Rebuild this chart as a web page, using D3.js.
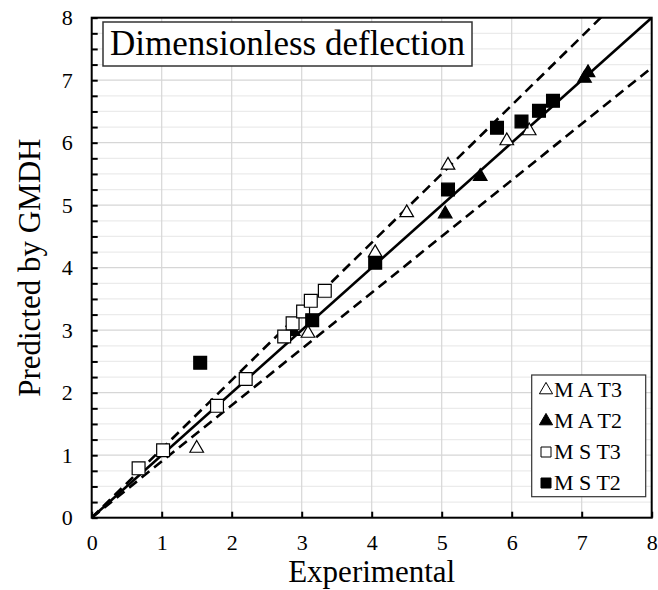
<!DOCTYPE html>
<html><head><meta charset="utf-8">
<script src="https://cdn.jsdelivr.net/npm/d3@7"></script>
<style>body{margin:0;background:#fff}svg{display:block}</style>
</head><body><svg id="c" width="658" height="590"></svg>
<script>
const maT3 = [[1.50,1.11],[3.09,2.95],[4.05,4.24],[4.50,4.88],[5.09,5.64],[5.93,6.03],[6.25,6.19]];
const maT2 = [[2.88,2.98],[5.05,4.86],[5.55,5.46],[7.04,7.03],[7.09,7.12]];
const msT3 = [[0.67,0.79],[1.02,1.08],[1.79,1.79],[2.20,2.22],[2.75,2.90],[2.87,3.11],[3.02,3.30],[3.13,3.47],[3.33,3.63]];
const msT2 = [[1.55,2.48],[3.15,3.16],[4.05,4.08],[5.09,5.25],[5.79,6.24],[6.14,6.34],[6.39,6.51],[6.59,6.67]];
const ticks = [0,1,2,3,4,5,6,7,8];
const minorTicks = d3.range(0, 8.001, 0.25);
const refLines = [{k:1, dash:null},{k:1.1, dash:"10,6"},{k:0.9, dash:"10,6"}];
const seriesNames = ["M A T3","M A T2","M S T3","M S T2"];
const titleText = "Dimensionless deflection";

const FONT = "'Liberation Serif', Tinos, 'Times New Roman', 'DejaVu Serif', serif";
const svg = d3.select("#c");
const L=91.7, T=17.7, W=560, H=500;
const x = d3.scaleLinear().domain([0,8]).range([L, L+W]);
const y = d3.scaleLinear().domain([0,8]).range([T+H, T]);

// gridlines
svg.append("g").selectAll("line").data(minorTicks.filter(v=>v>0&&v<8)).join("line")
  .attr("x1",L).attr("x2",L+W).attr("y1",d=>y(d)).attr("y2",d=>y(d))
  .attr("stroke",d=>Number.isInteger(d)?"#d6d6d6":"#ebebeb").attr("stroke-width",1.2);
svg.append("g").selectAll("line").data(ticks.filter(v=>v>0&&v<8)).join("line")
  .attr("y1",T).attr("y2",T+H).attr("x1",d=>x(d)).attr("x2",d=>x(d))
  .attr("stroke","#d6d6d6").attr("stroke-width",1.2);

// axes
const xa = svg.append("g").attr("transform",`translate(0,${T+H})`)
  .call(d3.axisBottom(x).tickValues(ticks).tickFormat(d3.format("d")).tickSizeInner(-6).tickSizeOuter(0).tickPadding(17));
xa.select(".domain").remove();
xa.selectAll("line").attr("stroke","#000").attr("stroke-width",2);
xa.attr("font-family",null).attr("font-size",null);
xa.selectAll("text").style("font-family",FONT).style("font-size","22px").attr("fill","#000");
const ya = svg.append("g").attr("transform",`translate(${L},0)`)
  .call(d3.axisLeft(y).tickValues(minorTicks).tickFormat(d=>Number.isInteger(d)?d:"").tickSizeInner(-6).tickSizeOuter(0).tickPadding(19));
ya.select(".domain").remove();
ya.selectAll("line").attr("stroke","#000").attr("stroke-width",2);
ya.attr("font-family",null).attr("font-size",null);
ya.selectAll("text").style("font-family",FONT).style("font-size","22px").attr("fill","#000");

// clip for ref lines
svg.append("clipPath").attr("id","pc").append("rect").attr("x",L).attr("y",T).attr("width",W).attr("height",H);
const lg = svg.append("g").attr("clip-path","url(#pc)");
refLines.forEach(r=>{
  lg.append("line").attr("x1",x(0)).attr("y1",y(0)).attr("x2",x(8)).attr("y2",y(8*r.k))
    .attr("stroke","#000").attr("stroke-width",2.6).attr("stroke-dasharray",r.dash);
});

// frame
svg.append("rect").attr("x",L).attr("y",T).attr("width",W).attr("height",H)
  .attr("fill","none").attr("stroke","#000").attr("stroke-width",2);

// markers
const tri = d3.symbol().type(d3.symbolTriangle).size(80);
const sq = d3.symbol().type(d3.symbolSquare).size(165);
function drawPts(data, sym, filled){
  svg.append("g").selectAll("path").data(data).join("path")
    .attr("d", sym).attr("transform",d=>`translate(${x(d[0])},${y(d[1])})`)
    .attr("fill", filled?"#000":"#fff").attr("stroke","#000").attr("stroke-width",1.2);
}
drawPts(maT3, tri, false);
drawPts(maT2, tri, true);
drawPts(msT3, sq, false);
drawPts(msT2, sq, true);

function txt(sel){ return sel.style("font-family",FONT).attr("fill","#000"); }

// title box
svg.append("rect").attr("x",103).attr("y",22).attr("width",369).attr("height",44)
  .attr("fill","#fff").attr("stroke","#333").attr("stroke-width",1.5);
txt(svg.append("text")).attr("x",287.5).attr("y",55).attr("text-anchor","middle")
  .style("font-size","35px").text(titleText);

// legend
svg.append("rect").attr("x",531.7).attr("y",375).attr("width",114).attr("height",121.7)
  .attr("fill","#fff").attr("stroke","#333").attr("stroke-width",1.2);
const legSq = d3.symbol().type(d3.symbolSquare).size(100);
const legTri = d3.symbol().type(d3.symbolTriangle).size(75);
const legSyms = [[legTri,false],[legTri,true],[legSq,false],[legSq,true]];
seriesNames.forEach((n,i)=>{
  const cy = 390 + i*31;
  svg.append("path").attr("d",legSyms[i][0]).attr("transform",`translate(546,${cy})`)
    .attr("fill",legSyms[i][1]?"#000":"#fff").attr("stroke","#000").attr("stroke-width",1);
  txt(svg.append("text")).attr("x",554).attr("y",cy+7).style("font-size","22px").text(n);
});

// axis titles
txt(svg.append("text")).attr("x",L+W/2).attr("y",582).attr("text-anchor","middle").style("font-size","31px").text("Experimental");
txt(svg.append("text")).attr("transform",`translate(40,${T+H/2}) rotate(-90)`).attr("text-anchor","middle").style("font-size","31px").text("Predicted by GMDH");
</script></body></html>
